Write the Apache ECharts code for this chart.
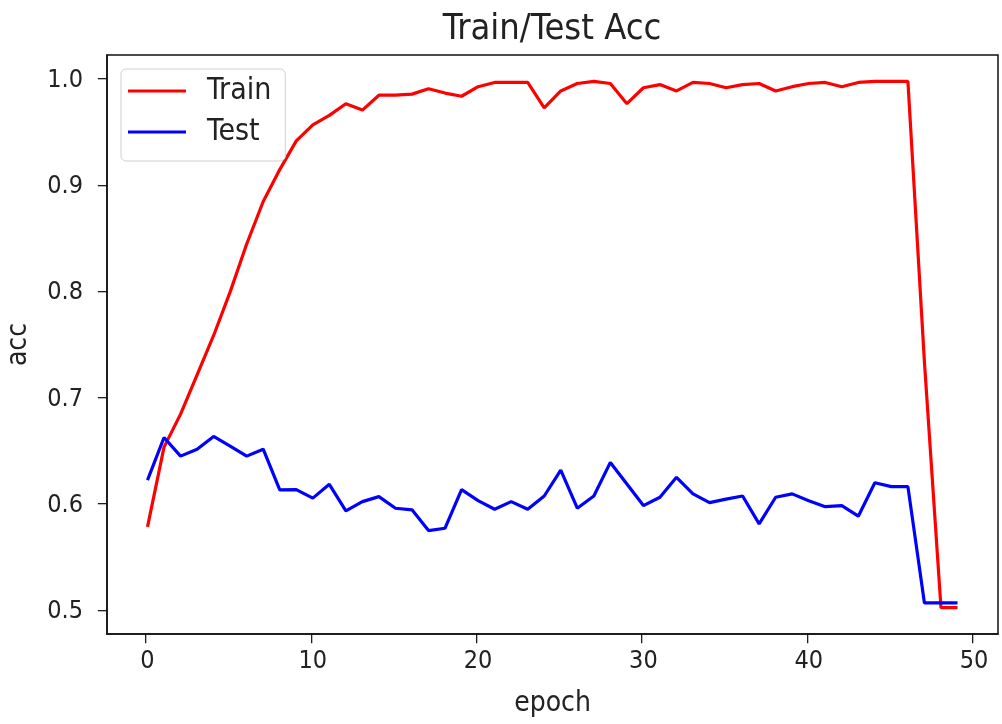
<!DOCTYPE html>
<html>
<head>
<meta charset="utf-8">
<script src="https://cdn.jsdelivr.net/npm/echarts@6/dist/echarts.min.js"></script>
<style>
html,body{margin:0;padding:0;background:#fff;}
#chart{width:1002px;height:724px;}
</style>
</head>
<body>
<div id="chart"></div>
<script>
const epochs = [0,1,2,3,4,5,6,7,8,9,10,11,12,13,14,15,16,17,18,19,20,21,22,23,24,25,26,27,28,29,30,31,32,33,34,35,36,37,38,39,40,41,42,43,44,45,46,47,48,49];
const trainAcc = [0.580,0.655,0.686,0.723,0.760,0.801,0.846,0.886,0.916,0.943,
  0.958,0.967,0.978,0.972,0.986,0.986,0.987,0.992,0.988,0.985,
  0.994,0.998,0.998,0.998,0.974,0.990,0.997,0.999,0.997,0.978,
  0.993,0.996,0.990,0.998,0.997,0.993,0.996,0.997,0.990,0.994,
  0.997,0.998,0.994,0.998,0.999,0.999,0.999,0.735,0.504,0.504];
const testAcc = [0.624,0.664,0.6465,0.653,0.665,0.656,0.6465,0.653,0.6147,0.615,
  0.607,0.620,0.595,0.6037,0.6084,0.5975,0.596,0.5765,0.5787,0.615,
  0.6046,0.5965,0.6037,0.5965,0.609,0.6334,0.5975,0.609,0.6406,0.6203,
  0.600,0.6078,0.6266,0.611,0.6028,0.606,0.609,0.5828,0.6078,0.611,
  0.6046,0.599,0.600,0.590,0.6215,0.6178,0.6178,0.5084,0.5084,0.5084];
const xTicks = [0,10,20,30,40,50];
const yTicks = [0.5,0.6,0.7,0.8,0.9,1.0];
const xMin = -2.45, xMax = 51.45;
const yMin = 0.4792, yMax = 1.0238;

const FONT = "'DejaVu Sans Condensed','DejaVu Sans',sans-serif";
const TICK_FONT = "'DejaVu Sans Mono','DejaVu Sans',monospace";
const TXT = '#222';

const chart = echarts.init(document.getElementById('chart'), null, {renderer:'canvas'});
chart.setOption({
  backgroundColor:'#fff',
  animation:false,
  title:{
    text:'Train/Test Acc', left:547, top:7, textAlign:'center',
    textStyle:{fontFamily:FONT, fontSize:36, fontWeight:'normal', color:TXT}
  },
  grid:{left:107, right:4, top:55, bottom:90, show:true, borderColor:'#111', borderWidth:1.5,
    containLabel:false, outerBoundsMode:'none'},
  legend:{
    orient:'vertical', left:121, top:69,
    padding:[7,14,14,7], itemGap:11,
    itemWidth:58, itemHeight:3, icon:'rect',
    backgroundColor:'#fff', borderColor:'#d0d0d0', borderWidth:1, borderRadius:5,
    textStyle:{fontFamily:FONT, fontSize:30, color:TXT, lineHeight:28, padding:[0,0,0,16]},
    data:['Train','Test']
  },
  xAxis:[{
    type:'value', min:xMin, max:xMax,
    name:'epoch', nameLocation:'middle', nameGap:56,
    nameTextStyle:{fontFamily:FONT, fontSize:28, color:TXT},
    axisLine:{show:true, onZero:false, lineStyle:{color:'#111', width:1.5}},
    splitLine:{show:false},
    axisTick:{show:false},
    axisLabel:{customValues:xTicks, margin:15, fontFamily:FONT, fontSize:25, color:TXT}
  },{
    type:'value', min:xMin, max:xMax, position:'bottom',
    axisLine:{show:false, onZero:false}, splitLine:{show:false}, axisTick:{show:false},
    axisLabel:{customValues:xTicks, margin:0, rotate:90, formatter:()=>'─',
      fontFamily:TICK_FONT, fontSize:15, color:'#111'}
  }],
  yAxis:[{
    type:'value', min:yMin, max:yMax,
    name:'acc', nameLocation:'middle', nameGap:74, nameRotate:90,
    nameTextStyle:{fontFamily:FONT, fontSize:28, color:TXT},
    axisLine:{show:true, onZero:false, lineStyle:{color:'#111', width:1.5}},
    splitLine:{show:false},
    axisTick:{show:false},
    axisLabel:{customValues:yTicks, margin:24, fontFamily:FONT, fontSize:25, color:TXT,
      formatter:v=>v.toFixed(1)}
  },{
    type:'value', min:yMin, max:yMax, position:'left',
    axisLine:{show:false, onZero:false}, splitLine:{show:false}, axisTick:{show:false},
    axisLabel:{customValues:yTicks, margin:0, formatter:()=>'─',
      fontFamily:TICK_FONT, fontSize:15, color:'#111'}
  }],
  series:[
    {name:'Train', type:'line', symbol:'none', showSymbol:false,
     data:epochs.map((e,i)=>[e,trainAcc[i]]),
     itemStyle:{color:'#ff0000'}, lineStyle:{color:'#ff0000', width:3.2}},
    {name:'Test', type:'line', symbol:'none', showSymbol:false,
     data:epochs.map((e,i)=>[e,testAcc[i]]),
     itemStyle:{color:'#0000ff'}, lineStyle:{color:'#0000ff', width:3.2}}
  ]
});
</script>
</body>
</html>
